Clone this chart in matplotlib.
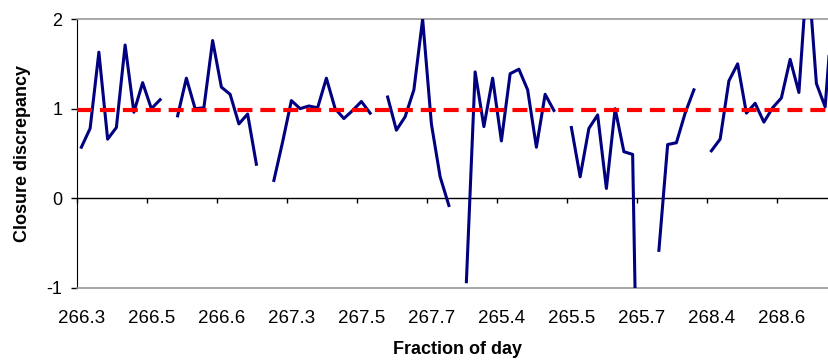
import numpy as np
import matplotlib.pyplot as plt

plt.rcParams['font.family'] = ['Liberation Sans', 'DejaVu Sans']
plt.rcParams['axes.unicode_minus'] = False

# closure discrepancy per sample (nan = missing)
discrepancy = [0.57, 0.78, 1.63, 0.66, 0.79, 1.71, 0.96, 1.29, 1.00, 1.10,
               np.nan, 0.92, 1.34, 1.00, 1.01, 1.76, 1.24, 1.16, 0.83, 0.94,
               0.38, np.nan, 0.20, 0.63, 1.09, 1.00, 1.03, 1.01, 1.34, 1.00,
               0.89, 0.98, 1.08, 0.95, np.nan, 1.13, 0.76, 0.91, 1.21, 2.00,
               0.83, 0.24, -0.08, np.nan, -0.93, 1.41, 0.80, 1.34, 0.64, 1.39,
               1.44, 1.21, 0.57, 1.16, 0.98, np.nan, 0.79, 0.24, 0.78, 0.93,
               0.11, 1.00, 0.52, 0.49, -5.0, np.nan, -0.58, 0.60, 0.62, 0.95,
               1.21, np.nan, 0.53, 0.66, 1.31, 1.50, 0.95, 1.06, 0.85, 1.01,
               1.12, 1.55, 1.18, 2.6, 1.28, 1.02, 2.3]
mean_level = 0.98
tick_labels = ['266.3', '266.5', '266.6', '267.3', '267.5', '267.7',
               '265.4', '265.5', '265.7', '268.4', '268.6']
label_every = 8

y = np.array(discrepancy)
x = np.arange(len(y)) + 0.5
ticks = np.arange(len(tick_labels)) * label_every

fig = plt.figure(figsize=(8.29, 3.62), dpi=100)
ax = fig.add_axes([77 / 829, 74 / 362, 752 / 829, 269 / 362])

ax.plot(x, y, color='#000080', lw=2.2, zorder=3)
ax.axhline(mean_level, color='#ff0000', lw=3, dashes=(3.6, 1.9), zorder=4)

# horizontal axis line at zero with its tick marks
ax.axhline(0, color='black', lw=1, zorder=2)
ax.vlines(ticks, 0, -0.055, color='black', lw=1, clip_on=False, zorder=2)

ax.set_xlim(0, 85.94)
ax.set_ylim(-1, 2)
ax.set_yticks([-1, 0, 1, 2])
ax.set_xticks(ticks + 0.5)
ax.set_xticklabels(tick_labels)
ax.tick_params(axis='x', length=0, pad=16, labelsize=13.5)
ax.tick_params(axis='y', length=4.5, width=1, direction='out', pad=6, labelsize=13)

for s in ['top', 'bottom']:
    ax.spines[s].set_color('#999999')
    ax.spines[s].set_linewidth(1.2)
ax.spines['right'].set_visible(False)
ax.spines['left'].set_color('black')

ax.set_ylabel('Closure discrepancy', fontsize=13, fontweight='bold')
ax.yaxis.set_label_coords(-0.061, 0.5)
fig.text(458 / 829, 1 - 350 / 362, 'Fraction of day', fontsize=13,
         fontweight='bold', ha='center', va='center')

fig.savefig('out.png', dpi=100)
